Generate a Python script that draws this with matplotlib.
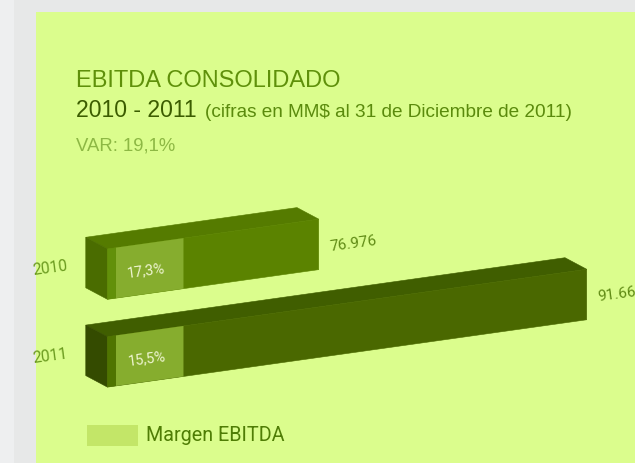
import numpy as np
import matplotlib
matplotlib.use('Agg')
import matplotlib.pyplot as plt
from matplotlib.patches import Polygon, Rectangle
from matplotlib.transforms import Affine2D

# data
years = ['2010', '2011']
ebitda = [76.976, 91.663]          # MM$
value_labels = ['76.976', '91.663']
margins = ['17,3%', '15,5%']

title = 'EBITDA CONSOLIDADO'
period = '2010 - 2011'
subtitle = '(cifras en MM$ al 31 de Diciembre de 2011)'
variation = 'VAR: 19,1%'
legend_label = 'Margen EBITDA'

W, H = 635, 463
fig = plt.figure(figsize=(W / 100, H / 100), dpi=100, facecolor='#e7e8e8')
ax = fig.add_axes([0, 0, 1, 1])
ax.axis('off')
base = 65.4                      # value axis does not start at zero
ax.set_xlim(59.51, 94.31)
ax.set_ylim(H, 0)
px = W / (ax.get_xlim()[1] - ax.get_xlim()[0])   # pixels per MM$

# page background
ax.add_patch(Rectangle((0, 0), 14 / W, 1, transform=ax.transAxes, color='#eeeff0', lw=0))
ax.add_patch(Rectangle((36 / W, 0), 1, 1 - 12 / H, transform=ax.transAxes, color='#dbfd8d', lw=0))

# fake perspective: shear display so the bars climb to the right
shear = ax.transData + Affine2D().skew(0, np.arctan(0.1406))

NARROW = ['Liberation Sans Narrow', 'Roboto']
HEAD = 'Liberation Sans'
rows = [289.2, 377.0]
bar_h = 50.5
dx, dy = -21.7 / px, -14.6
faces = [dict(top='#557b00', side='#4a6c00', front='#5b8300', strip='#62900a'),
         dict(top='#405e00', side='#344b00', front='#4a6800', strip='#4f7400')]
margin_color = '#86ad2e'

for y, val, lab, m, yr, c in zip(rows, ebitda, value_labels, margins, years, faces):
    yt, yb = y - bar_h / 2, y + bar_h / 2
    top = [(base, yt), (val, yt), (val + dx, yt + dy), (base + dx, yt + dy)]
    side = [(base, yt), (base + dx, yt + dy), (base + dx, yb + dy), (base, yb)]
    ax.add_patch(Polygon(top, closed=True, transform=shear, fc=c['top'], ec=c['top'], lw=0.4))
    ax.add_patch(Polygon(side, closed=True, transform=shear, fc=c['side'], ec=c['side'], lw=0.4))
    ax.add_patch(Rectangle((base, yt), val - base, bar_h, transform=shear,
                           fc=c['front'], ec=c['front'], lw=0.4))
    ax.add_patch(Rectangle((base, yt), 8.5 / px, bar_h, transform=shear, fc=c['strip'], lw=0))
    ax.add_patch(Rectangle((base + 8.5 / px, yt), 67.5 / px, bar_h, transform=shear,
                           fc=margin_color, lw=0))
    ax.text(base + 8.5 / px + 30.5 / px, y + 2, m, transform=shear, ha='center', va='center',
            rotation=7.6, rotation_mode='anchor', color='#eef5d0', fontsize=10.5, family=NARROW)
    ax.text(base + dx - 18 / px, y - 14, yr, transform=shear, ha='right', va='center',
            rotation=7.6, rotation_mode='anchor', color='#6a9a1e', fontsize=11.2, family=NARROW)
    ax.text(val + 11 / px, y + 4, lab, transform=shear, ha='left', va='center',
            rotation=7.6, rotation_mode='anchor', color='#5f8a14', fontsize=11, family=NARROW)

# headings
fig.text(75.5 / W, 1 - 86.7 / H, title, color='#5f900a', fontsize=17, family=HEAD, va='baseline')
fig.text(75.5 / W, 1 - 117.3 / H, period, color='#3b5c00', fontsize=16.6, family=HEAD, va='baseline')
fig.text(205 / W, 1 - 117.3 / H, subtitle, color='#5a8a0c', fontsize=13.7, family=HEAD, va='baseline')
fig.text(75.5 / W, 1 - 150.7 / H, variation, color='#8db844', fontsize=13.3, family=HEAD, va='baseline')

# legend
ax.add_patch(Rectangle((86.7 / W, 1 - 446 / H), 51.6 / W, 21 / H, transform=ax.transAxes,
                       color='#c3e668', lw=0))
fig.text(146 / W, 1 - 440.7 / H, legend_label, color='#4f7d05', fontsize=14.2, family='Roboto',
         va='baseline')

fig.savefig('out.png', dpi=100, facecolor=fig.get_facecolor())
